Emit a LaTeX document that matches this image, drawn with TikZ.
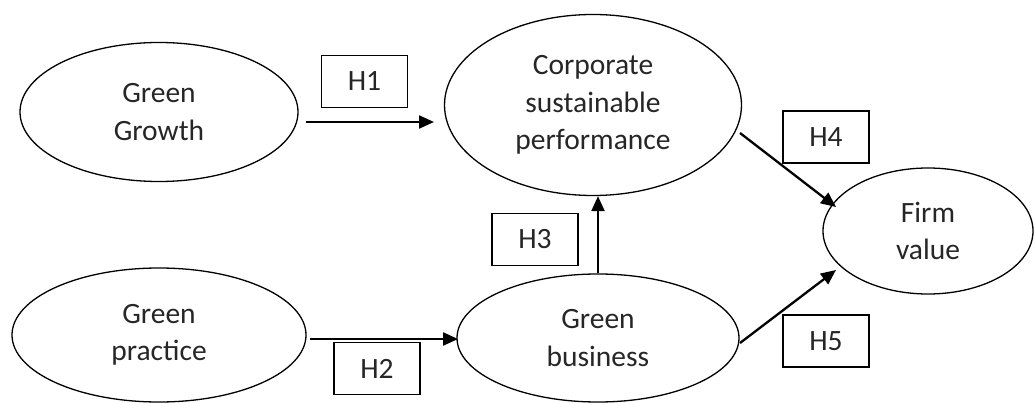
\documentclass[tikz,border=0pt]{standalone}
\usepackage{fontspec}
\setmainfont{Carlito}
\usetikzlibrary{shapes.geometric,arrows.meta}
\begin{document}
\begin{tikzpicture}[x=1pt,y=-1pt,
  oval/.style={ellipse,draw,line width=1.3pt,inner sep=0pt,align=center,
    font=\fontsize{29.5}{37.5}\selectfont,text=black!85},
  hbox/.style={rectangle,draw,line width=1.9pt,minimum width=86pt,minimum height=52pt,
    inner sep=0pt,font=\fontsize{29.5}{32}\selectfont,text=black!85},
  arr/.style={line width=2.3pt,-{Triangle[length=15pt,width=13pt]}}]
\useasboundingbox (0,0) rectangle (1035,403);
\node[oval,minimum width=278pt,minimum height=139pt] (gg) at (159,112) {Green\\Growth};
\node[oval,minimum width=297pt,minimum height=181pt] (csp) at (593,105) {Corporate\\sustainable\\performance};
\node[oval,minimum width=210pt,minimum height=126pt] (fv) at (928,231) {Firm\\value};
\node[oval,minimum width=294pt,minimum height=134pt] (gp) at (159,335) {Green\\practice};
\node[oval,minimum width=282pt,minimum height=128pt] (gb) at (598,338) {Green\\business};
\node[hbox] (h1) at (364.5,81.5) {H1};
\node[hbox] (h2) at (377,368.5) {H2};
\node[hbox] (h3) at (535,239.5) {H3};
\node[hbox] (h4) at (826,137) {H4};
\node[hbox] (h5) at (826,341) {H5};
\coordinate (a1s) at (306,122);
\coordinate (a1e) at (434,122);
\coordinate (a2s) at (310,339);
\coordinate (a2e) at (458,339);
\coordinate (a4s) at (740,133);
\coordinate (a4e) at (836,207);
\coordinate (a5s) at (740,343);
\coordinate (a5e) at (836,270);
\draw[arr] (a1s) -- (a1e);
\draw[arr] (a2s) -- (a2e);
\draw[arr] (gb.north) -- (gb.north |- csp.south);
\draw[arr] (a4s) -- (a4e);
\draw[arr] (a5s) -- (a5e);
\end{tikzpicture}
\end{document}
